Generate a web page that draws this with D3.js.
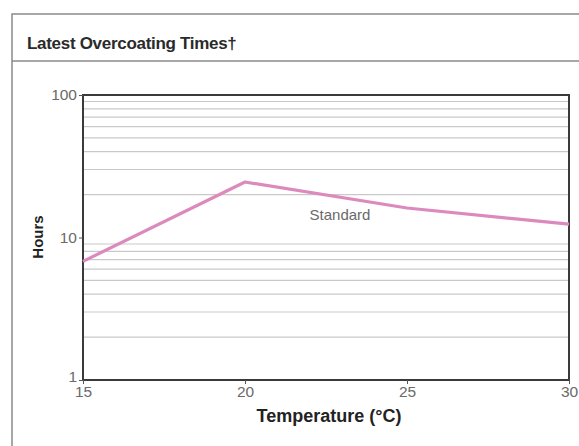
<!DOCTYPE html>
<html>
<head>
<meta charset="utf-8">
<script src="https://cdn.jsdelivr.net/npm/d3@7"></script>
<style>
  body { margin: 0; background: #fff; }
  svg { display: block; font-family: "Liberation Sans", Arial, sans-serif; }
</style>
</head>
<body>
<div id="chart"></div>
<script>
// data
var temps = [15, 20, 25, 30],
    hours = [6.8, 24.5, 16.1, 12.4],
    xTicks = [15, 20, 25, 30],
    yTicks = [1, 10, 100],
    seriesName = "Standard";

var width = 579, height = 446,
    margin = {left: 83, right: 10, top: 95, bottom: 66};

var svg = d3.select("#chart").append("svg")
    .attr("width", width)
    .attr("height", height);

// outer box + title strip
svg.append("path")
    .attr("d", "M12,446V14H579")
    .attr("fill", "none")
    .attr("stroke", "#8a8a8a")
    .attr("stroke-width", 1.5);
svg.append("line")
    .attr("x1", 12).attr("x2", 579)
    .attr("y1", 61).attr("y2", 61)
    .attr("stroke", "#8a8a8a")
    .attr("stroke-width", 1.5);

svg.append("text")
    .attr("x", 27).attr("y", 49)
    .attr("font-size", 17)
    .attr("font-weight", "bold")
    .attr("letter-spacing", -0.3)
    .attr("fill", "#2a2a2a")
    .text("Latest Overcoating Times\u2020");

var x = d3.scaleLinear().domain([15, 30]).range([margin.left, width - margin.right]),
    y = d3.scaleLog().domain([1, 100]).range([380, margin.top]);

// minor gridlines for the log scale
var grid = y.ticks().filter((d) => yTicks.indexOf(d) < 0);
svg.append("g")
    .selectAll("line")
    .data(grid)
    .enter().append("line")
    .attr("x1", x(15)).attr("x2", x(30))
    .attr("y1", (d) => y(d)).attr("y2", (d) => y(d))
    .attr("stroke", "#c9c9c9")
    .attr("stroke-width", 1.2);

// frame
svg.append("rect")
    .attr("x", x(15)).attr("y", y(100))
    .attr("width", x(30) - x(15))
    .attr("height", y(1) - y(100))
    .attr("fill", "none")
    .attr("stroke", "#3a3a3a")
    .attr("stroke-width", 2);

// axes
var yAxis = d3.axisLeft(y).tickValues(yTicks).tickFormat(d3.format("d")).tickSize(4).tickPadding(2);
var yg = svg.append("g").attr("transform", "translate(" + x(15) + ",0)").call(yAxis);
yg.select(".domain").remove();
yg.selectAll(".tick line").attr("stroke", "#555");
yg.selectAll(".tick text").attr("fill", "#6a6a6a").attr("font-size", 15.5).attr("font-family", null);
// the "1" sits a bit higher so it clears the "15" below it
yg.selectAll(".tick").filter((d) => d === 1).select("text").attr("dy", "0.1em");

var xAxis = d3.axisBottom(x).tickValues(xTicks).tickSize(4).tickPadding(2);
var xg = svg.append("g").attr("transform", "translate(0," + y(1) + ")").call(xAxis);
xg.select(".domain").remove();
xg.selectAll(".tick line").attr("stroke", "#555");
xg.selectAll(".tick text").attr("fill", "#6a6a6a").attr("font-size", 15.5).attr("font-family", null);

// axis titles
svg.append("text")
    .attr("transform", "translate(43,237) rotate(-90)")
    .attr("text-anchor", "middle")
    .attr("font-size", 15)
    .attr("font-weight", "bold")
    .attr("fill", "#222")
    .text("Hours");

svg.append("text")
    .attr("x", 329).attr("y", 422)
    .attr("text-anchor", "middle")
    .attr("font-size", 18)
    .attr("font-weight", "bold")
    .attr("fill", "#222")
    .text("Temperature (\u00B0C)");

// series
var line = d3.line()
    .x((d, i) => x(temps[i]))
    .y((d) => y(d));

svg.append("path")
    .datum(hours)
    .attr("d", line)
    .attr("fill", "none")
    .attr("stroke", "#dc8abd")
    .attr("stroke-width", 3.2)
    .attr("stroke-linejoin", "round");

svg.append("text")
    .attr("x", 340).attr("y", 220)
    .attr("text-anchor", "middle")
    .attr("font-size", 15)
    .attr("fill", "#6a6a6a")
    .text(seriesName);
</script>
</body>
</html>
